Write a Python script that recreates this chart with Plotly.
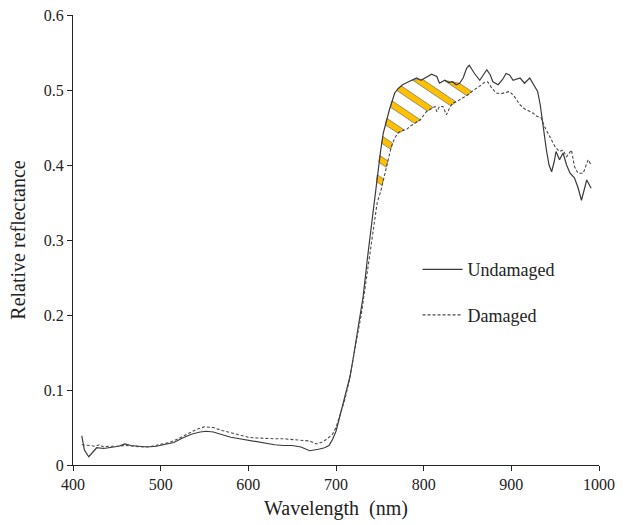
import numpy as np
import plotly.graph_objects as go

# ---------------- data ----------------
wl_undamaged = [410, 413, 418, 423, 427, 435, 445, 452, 459, 466, 475, 485, 495, 505, 515,
                525, 535, 545, 552, 560, 570, 580, 590, 600, 610, 620, 630, 640, 650, 660,
                670, 680, 687, 692, 696, 700, 706, 711, 716, 720, 723, 727, 731, 736, 740,
                743, 746, 748, 751, 754, 758, 761, 764, 767, 771, 776, 781, 786, 792, 797,
                803, 809, 815, 818, 824, 829, 833, 837, 841, 845, 849, 852, 858, 864, 868,
                872, 876, 879, 885, 890, 894, 898, 902, 906, 910, 915, 921, 927, 930, 933,
                936, 940, 943, 946, 949, 951, 955, 959, 963, 967, 972, 976, 980, 983, 986, 991]
refl_undamaged = [0.039, 0.020, 0.011, 0.018, 0.023, 0.022, 0.024, 0.025, 0.028, 0.026, 0.025,
                  0.024, 0.025, 0.027, 0.030, 0.036, 0.041, 0.044, 0.045, 0.044, 0.040, 0.037,
                  0.035, 0.033, 0.030, 0.028, 0.027, 0.026, 0.026, 0.024, 0.019, 0.021, 0.023,
                  0.026, 0.034, 0.045, 0.073, 0.095, 0.118, 0.145, 0.167, 0.195, 0.225, 0.277,
                  0.315, 0.345, 0.376, 0.398, 0.420, 0.443, 0.462, 0.474, 0.485, 0.496, 0.502,
                  0.507, 0.510, 0.513, 0.516, 0.513, 0.517, 0.521, 0.518, 0.509, 0.513, 0.510,
                  0.511, 0.507, 0.509, 0.516, 0.529, 0.533, 0.522, 0.513, 0.520, 0.527, 0.520,
                  0.511, 0.507, 0.514, 0.522, 0.520, 0.513, 0.515, 0.516, 0.509, 0.516, 0.504,
                  0.498, 0.480, 0.451, 0.420, 0.400, 0.391, 0.405, 0.418, 0.407, 0.416, 0.400,
                  0.389, 0.383, 0.370, 0.353, 0.365, 0.380, 0.369]

wl_damaged = [410, 415, 420, 425, 430, 435, 440, 450, 460, 470, 480, 490, 500, 510, 520, 530,
              540, 550, 560, 570, 580, 590, 600, 610, 620, 630, 640, 650, 660, 670, 678, 685,
              690, 696, 700, 705, 710, 715, 719, 724, 729, 733, 736, 740, 744, 747, 751, 754,
              757.5, 763, 767, 771, 775, 780, 785, 790, 796, 803, 808, 813, 815, 818, 822, 826,
              830, 833, 837, 841, 846, 851, 856, 860, 865, 869, 873, 878, 883, 888, 893, 898,
              903, 907, 910, 915, 921, 925, 929, 934, 938, 944, 950, 955, 959, 963, 968.6, 972,
              976, 982, 987.6, 991]
refl_damaged = [0.027, 0.027, 0.026, 0.025, 0.027, 0.024, 0.025, 0.025, 0.026, 0.025, 0.024,
                0.025, 0.027, 0.030, 0.035, 0.041, 0.047, 0.051, 0.050, 0.046, 0.043, 0.040,
                0.037, 0.036, 0.035, 0.035, 0.035, 0.034, 0.034, 0.032, 0.028, 0.031, 0.035,
                0.041, 0.050, 0.068, 0.087, 0.112, 0.140, 0.170, 0.202, 0.235, 0.264, 0.295,
                0.327, 0.350, 0.365, 0.380, 0.398, 0.424, 0.436, 0.443, 0.446, 0.447, 0.452,
                0.456, 0.460, 0.471, 0.475, 0.478, 0.471, 0.478, 0.478, 0.467, 0.477, 0.483,
                0.484, 0.487, 0.491, 0.494, 0.499, 0.502, 0.506, 0.510, 0.511, 0.502, 0.496,
                0.495, 0.497, 0.498, 0.492, 0.486, 0.480, 0.475, 0.472, 0.469, 0.465, 0.463,
                0.451, 0.438, 0.424, 0.418, 0.420, 0.411, 0.420, 0.398, 0.389, 0.389, 0.407,
                0.400]

x_ticks = [400, 500, 600, 700, 800, 900, 1000]
y_ticks = [0, 0.1, 0.2, 0.3, 0.4, 0.5, 0.6]
y_ticklabels = ["0", "0.1", "0.2", "0.3", "0.4", "0.5", "0.6"]

# ---------------- layout geometry ----------------
W, H = 624, 525
ML, MR, MT, MB = 73, 25, 15, 60
X0, X1 = 400, 1000
Y0, Y1 = 0, 0.6
pw, ph = W - ML - MR, H - MT - MB

fig = go.Figure()

# ---------------- hatch stripes between curves (highlighted region) ----------------
def to_px(x, y):
    return ML + (np.asarray(x) - X0) / (X1 - X0) * pw, MT + (Y1 - np.asarray(y)) / (Y1 - Y0) * ph

def from_px(px, py):
    return X0 + (px - ML) / pw * (X1 - X0), Y1 - (py - MT) / ph * (Y1 - Y0)

grid = np.linspace(735, 880, 3000)
up_y = np.interp(grid, wl_undamaged, refl_undamaged)
lo_y = np.interp(grid, wl_damaged, refl_damaged)
upx, upy = to_px(grid, up_y)
lox, loy = to_px(grid, lo_y)
ang = np.deg2rad(34)
nrm = np.array([-np.sin(ang), np.cos(ang)])
f_up = nrm[0] * upx + nrm[1] * upy
f_lo = nrm[0] * lox + nrm[1] * loy

def cross(fvals, px, py, c, start=0):
    d = fvals - c
    for i in range(start, len(d) - 1):
        if d[i] == 0 or d[i] * d[i + 1] < 0:
            t = d[i] / (d[i] - d[i + 1])
            return px[i] + t * (px[i + 1] - px[i]), py[i] + t * (py[i + 1] - py[i]), i
    return None

period, half = 17.4, 3.1
c0 = -63.0
for k in range(9):
    c = c0 - k * period
    pts = []
    ok = True
    for cc in (c - half, c + half):
        a = cross(f_up, upx, upy, cc)
        if a is None:
            ok = False
            break
        b = cross(f_lo, lox, loy, cc, start=a[2])
        if b is None:
            ok = False
            break
        pts.append((a, b))
    if not ok:
        continue
    (a1, b1), (a2, b2) = pts
    poly_px = [(a1[0], a1[1]), (b1[0], b1[1]), (b2[0], b2[1]), (a2[0], a2[1]), (a1[0], a1[1])]
    xs, ys = zip(*[from_px(p, q) for p, q in poly_px])
    fig.add_trace(go.Scatter(x=list(xs), y=list(ys), mode="lines", fill="toself",
                             fillcolor="#FFC000", line=dict(color="#6b6b6b", width=0.7),
                             showlegend=False, hoverinfo="skip"))

# ---------------- curves ----------------
fig.add_trace(go.Scatter(x=wl_undamaged, y=refl_undamaged, mode="lines", name="Undamaged",
                         line=dict(color="#3a3a3a", width=1.2), legendgroup="a"))
fig.add_trace(go.Scatter(x=wl_damaged, y=refl_damaged, mode="lines", name="Damaged",
                         line=dict(color="#4a4a4a", width=1.1, dash="3px,2px"), legendgroup="b"))

font_family = "Liberation Serif, Times New Roman, serif"
fig.update_layout(
    width=W, height=H,
    margin=dict(l=ML, r=MR, t=MT, b=MB, autoexpand=False),
    paper_bgcolor="white", plot_bgcolor="white",
    font=dict(family=font_family, color="#222", size=16),
    showlegend=True,
    legend=dict(x=0.655, y=0.475, xanchor="left", yanchor="top",
                font=dict(size=18, family=font_family, color="#222"),
                bgcolor="rgba(0,0,0,0)", tracegroupgap=19, itemwidth=40),
    xaxis=dict(range=[X0, X1], tickvals=x_ticks, ticks="outside", ticklen=5,
               showline=True, linecolor="#222", linewidth=1, tickcolor="#222",
               showgrid=False, zeroline=False, automargin=False, ticklabeloverflow="allow",
               title=dict(text="Wavelength  (nm)", font=dict(size=20), standoff=8),
               tickfont=dict(size=16)),
    yaxis=dict(range=[Y0, Y1], tickvals=y_ticks, ticktext=y_ticklabels,
               ticks="outside", ticklen=5,
               showline=True, linecolor="#222", linewidth=1, tickcolor="#222",
               showgrid=False, zeroline=False, automargin=False, ticklabeloverflow="allow",
               title=dict(text="Relative reflectance", font=dict(size=20), standoff=12),
               tickfont=dict(size=16)),
)

# remove the browser's default 8px page margin so the figure sits at the top-left corner
fig.write_html("out.html", config={"displayModeBar": False},
               post_script="document.body.style.margin='0';")
